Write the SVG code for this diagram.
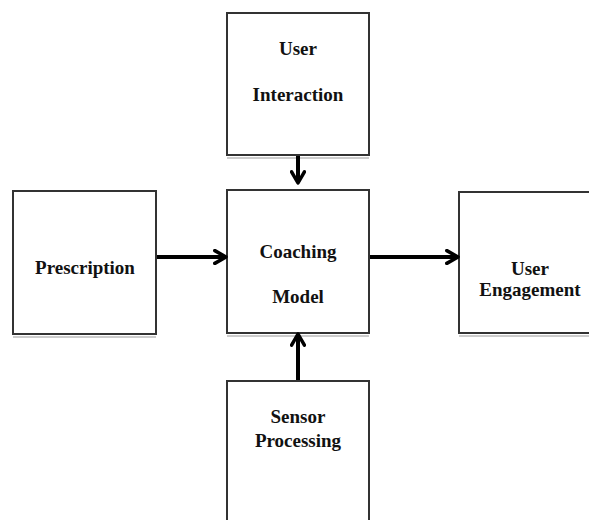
<svg xmlns="http://www.w3.org/2000/svg" width="589" height="520" viewBox="0 0 589 520">
<style>
.box{fill:#fff;stroke:#333;stroke-width:2}
.sh{fill:none;stroke:#ccc;stroke-width:2}
.t{font-family:"Liberation Serif","Times New Roman",serif;font-weight:bold;font-size:19px;fill:#111;text-anchor:middle}
.c{stroke:#000;stroke-width:4;fill:none}
</style>
<defs>
<marker id="ah" viewBox="0 0 10 10" refX="9" refY="5" markerWidth="4" markerHeight="4" orient="auto" markerUnits="strokeWidth">
<path d="M2,1 L9,5 L2,9" fill="none" stroke="#000" stroke-width="2.2" stroke-linecap="round" stroke-linejoin="round"/>
</marker>
</defs>
<rect width="589" height="520" fill="#fff"/>
<g id="user-interaction">
<rect class="box" x="227" y="13" width="142" height="142"/>
<line class="sh" x1="227" y1="158" x2="369" y2="158"/>
<text class="t" x="298" y="55">User</text>
<text class="t" x="298" y="101">Interaction</text>
</g>
<g id="prescription">
<rect class="box" x="13" y="191" width="143" height="143"/>
<line class="sh" x1="13" y1="337" x2="156" y2="337"/>
<text class="t" x="85" y="274">Prescription</text>
</g>
<g id="coaching-model">
<rect class="box" x="227" y="190" width="142" height="143"/>
<line class="sh" x1="227" y1="336" x2="369" y2="336"/>
<text class="t" x="298" y="258">Coaching</text>
<text class="t" x="298" y="303">Model</text>
</g>
<g id="user-engagement">
<rect class="box" x="459" y="192" width="140" height="141"/>
<line class="sh" x1="459" y1="336" x2="589" y2="336"/>
<text class="t" x="530" y="275">User</text>
<text class="t" x="530" y="296">Engagement</text>
</g>
<g id="sensor-processing">
<rect class="box" x="227" y="381" width="142" height="150"/>
<text class="t" x="298" y="423">Sensor</text>
<text class="t" x="298" y="447">Processing</text>
</g>
<g id="connectors">
<line class="c" x1="298" y1="156" x2="298" y2="183" marker-end="url(#ah)"/>
<line class="c" x1="157" y1="257" x2="226" y2="257" marker-end="url(#ah)"/>
<line class="c" x1="370" y1="257" x2="458" y2="257" marker-end="url(#ah)"/>
<line class="c" x1="298" y1="380" x2="298" y2="334" marker-end="url(#ah)"/>
</g>
</svg>
